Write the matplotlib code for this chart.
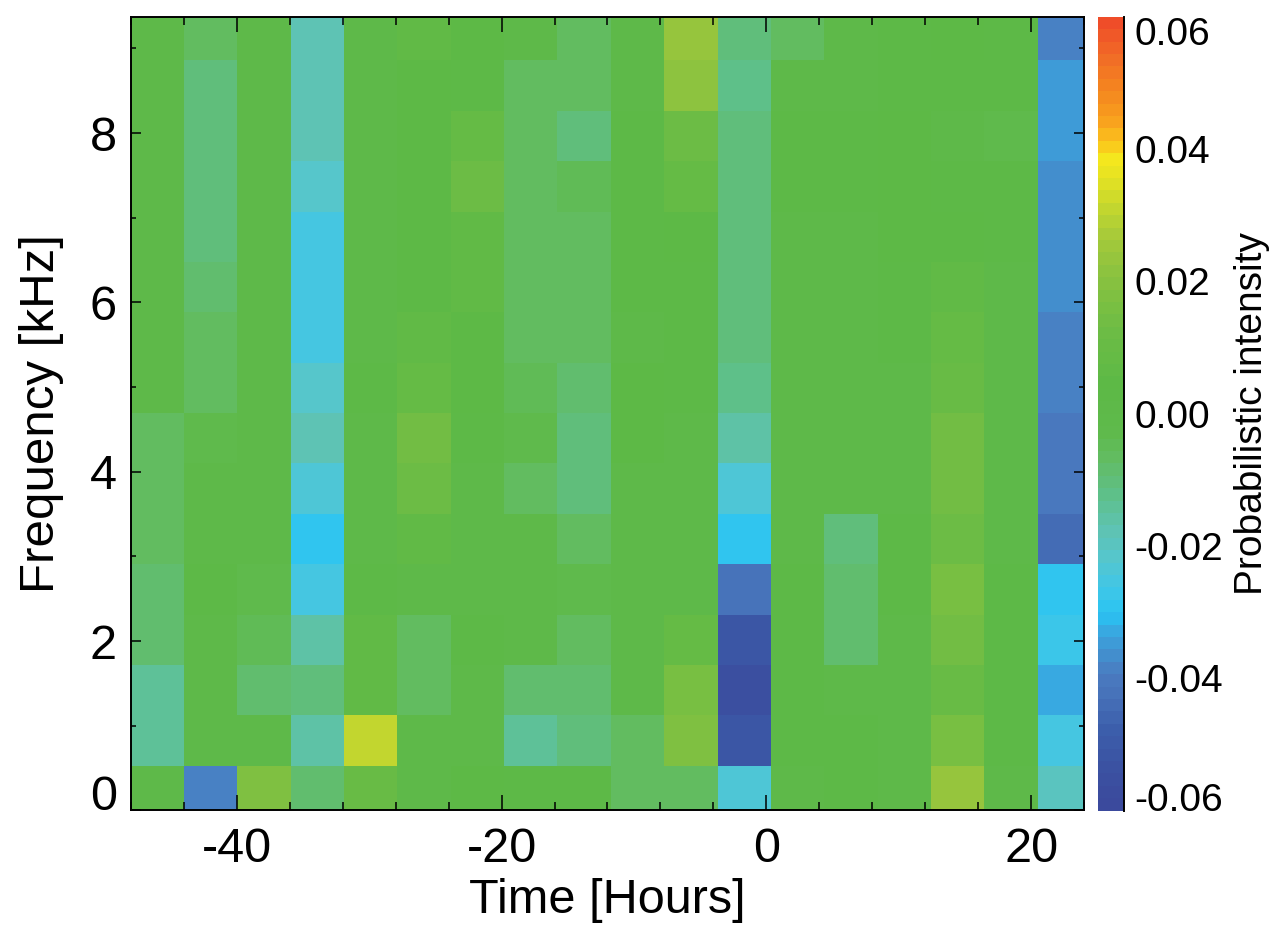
import numpy as np
import matplotlib
matplotlib.use("Agg")
import matplotlib.pyplot as plt
from matplotlib.colors import LinearSegmentedColormap, Normalize
from matplotlib.ticker import MultipleLocator, FixedLocator, FixedFormatter

plt.rcParams['font.family'] = ['Liberation Sans', 'DejaVu Sans']
plt.rcParams['axes.unicode_minus'] = False

# ---- data ----
time_bin_start = -48.02     # hours
time_bin_width = 4.03       # hours
freq_bin_start = -0.067     # kHz
freq_bin_width = 0.595      # kHz

# intensity per time bin (columns), values from lowest to highest frequency bin
col_m48 = [0.001, -0.015, -0.015, -0.009, -0.009, -0.006, -0.006, -0.006, 0.001, 0.001, 0.001, 0.001, 0.001, 0.001, 0.001, 0.001]
col_m44 = [-0.038, 0.001, 0.001, 0.001, 0.002, 0.001, 0.001, -0.003, -0.007, -0.006, -0.008, -0.010, -0.010, -0.011, -0.011, -0.006]
col_m40 = [0.017, 0.001, -0.008, -0.005, -0.002, 0.0, 0.0, 0.0, 0.0, 0.0, 0.0, 0.0, 0.0, 0.0, 0.0, 0.0]
col_m36 = [-0.009, -0.016, -0.010, -0.016, -0.025, -0.030, -0.024, -0.018, -0.022, -0.026, -0.026, -0.025, -0.022, -0.018, -0.017, -0.017]
col_m32 = [0.010, 0.031, 0.006, 0.006, 0.002, 0.0, 0.0, 0.0, 0.002, 0.0, 0.0, 0.0, 0.0, 0.0, 0.0, 0.0]
col_m28 = [0.001, 0.0, -0.006, -0.006, 0.001, 0.006, 0.013, 0.014, 0.008, 0.006, 0.005, 0.005, 0.004, 0.004, 0.005, 0.006]
col_m24 = [0.005, 0.0, 0.0, 0.002, 0.0, 0.0, 0.0, 0.002, 0.004, 0.005, 0.006, 0.007, 0.012, 0.008, 0.003, 0.005]
col_m20 = [0.002, -0.015, -0.008, 0.0, 0.0, 0.0, -0.006, -0.002, -0.004, -0.007, -0.007, -0.006, -0.006, -0.006, -0.006, 0.001]
col_m16 = [0.002, -0.010, -0.008, -0.006, -0.003, -0.006, -0.011, -0.010, -0.008, -0.006, -0.006, -0.006, -0.005, -0.011, -0.006, -0.006]
col_m12 = [-0.007, -0.007, 0.0, 0.0, 0.0, 0.0, 0.0, 0.004, 0.004, 0.001, 0.002, 0.002, 0.002, 0.002, 0.0, 0.0]
col_m08 = [-0.006, 0.018, 0.015, 0.008, 0.0, 0.0, 0.0, 0.0, 0.002, 0.002, 0.002, 0.004, 0.008, 0.012, 0.022, 0.024]
col_m04 = [-0.023, -0.052, -0.056, -0.052, -0.042, -0.030, -0.023, -0.016, -0.012, -0.010, -0.010, -0.011, -0.011, -0.010, -0.012, -0.011]
col_p00 = [0.001, 0.003, 0.002, 0.002, 0.002, 0.0, 0.0, 0.0, 0.0, 0.0, 0.0, 0.0, 0.002, 0.002, 0.001, -0.007]
col_p04 = [0.002, 0.002, 0.001, -0.008, -0.008, -0.010, 0.0, 0.0, 0.0, 0.0, 0.0, 0.0, 0.002, 0.003, 0.0, 0.0]
col_p08 = [0.001, 0.001, 0.0, 0.0, 0.002, 0.002, 0.001, 0.0, 0.001, 0.002, 0.002, 0.004, 0.004, 0.004, 0.003, 0.003]
col_p12 = [0.023, 0.016, 0.011, 0.014, 0.016, 0.012, 0.014, 0.014, 0.010, 0.008, 0.006, 0.004, 0.002, 0.001, 0.003, 0.004]
col_p16 = [0.0, 0.003, 0.003, 0.003, 0.002, 0.0, 0.0, 0.0, 0.001, 0.001, 0.0, 0.002, 0.002, -0.003, 0.002, 0.002]
col_p20 = [-0.019, -0.025, -0.033, -0.027, -0.030, -0.045, -0.041, -0.040, -0.039, -0.038, -0.037, -0.036, -0.036, -0.034, -0.034, -0.039]

columns = [col_m48, col_m44, col_m40, col_m36, col_m32, col_m28, col_m24, col_m20, col_m16,
           col_m12, col_m08, col_m04, col_p00, col_p04, col_p08, col_p12, col_p16, col_p20]

x_ticks = [-40, -20, 0, 20]
y_ticks = [0, 2, 4, 6, 8]
cbar_ticks = [-0.06, -0.04, -0.02, 0.00, 0.02, 0.04, 0.06]
cbar_ticklabels = ['-0.06', '-0.04', '-0.02', '0.00', '0.02', '0.04', '0.06']

# colormap anchors (value, colour)
cmap_anchors = [
    (-0.060, '#3b4a9d'), (-0.0558, '#3b4fa0'), (-0.0483, '#3c5fab'), (-0.0437, '#4670b8'),
    (-0.0398, '#4a7cc0'), (-0.0368, '#4290cf'), (-0.0337, '#3aa5df'), (-0.0307, '#29c4f3'),
    (-0.0267, '#40c6e6'), (-0.022, '#56c6cc'), (-0.018, '#5ec3b3'), (-0.013, '#5ec08e'),
    (-0.007, '#62bc62'), (-0.003, '#5fba4c'), (0.0046, '#5db946'), (0.012, '#6bbc45'),
    (0.017, '#7bbf42'), (0.022, '#8dc33f'), (0.0272, '#a6ca3a'), (0.032, '#c6d82d'),
    (0.0364, '#e6e322'), (0.039, '#f4e81e'), (0.0415, '#fbc51c'), (0.045, '#f9a11e'),
    (0.050, '#f4841f'), (0.055, '#f16a27'), (0.060, '#ef4d29'),
]

# ---- figure ----
W, H = 1284, 938
fig = plt.figure(figsize=(W / 100, H / 100), dpi=100)

def px_axes(l, t, r, b):
    return [l / W, (H - b) / H, (r - l) / W, (b - t) / H]

ax = fig.add_axes(px_axes(130.7, 16.7, 1084.3, 810.4))
cax = fig.add_axes(px_axes(1098.3, 16.7, 1124.3, 810.7))

vmin, vmax = -0.06, 0.06
pos = [(v - vmin) / (vmax - vmin) for v, _ in cmap_anchors]
cols = [c for _, c in cmap_anchors]
cmap = LinearSegmentedColormap.from_list('prob', list(zip(pos, cols)), N=64)
norm = Normalize(vmin=vmin, vmax=vmax)

Z = np.array(columns).T
n_f, n_t = Z.shape
t_edges = time_bin_start + time_bin_width * np.arange(n_t + 1)
f_edges = freq_bin_start + freq_bin_width * np.arange(n_f + 1)

mesh = ax.pcolormesh(t_edges, f_edges, Z, cmap=cmap, norm=norm, shading='flat',
                     edgecolors='face', linewidth=0)
ax.set_xlim(-48, 24)
ax.set_ylim(0, 9.375)

ax.xaxis.set_major_locator(FixedLocator(x_ticks))
ax.xaxis.set_minor_locator(MultipleLocator(4))
ax.yaxis.set_major_locator(FixedLocator(y_ticks))
ax.yaxis.set_minor_locator(MultipleLocator(1))

for sp in ax.spines.values():
    sp.set_linewidth(1.4)
    sp.set_zorder(5)

ax.tick_params(axis='both', which='both', direction='in', top=True, right=True,
               width=1.1, labelsize=35, colors='black')
ax.tick_params(axis='x', which='major', length=10.8, pad=12)
ax.tick_params(axis='x', which='minor', length=5.5)
ax.tick_params(axis='y', which='major', length=7.2, pad=10)
ax.tick_params(axis='y', which='minor', length=3.6)

ax.set_xlabel('Time [Hours]', fontsize=35)
ax.set_ylabel('Frequency [kHz]', fontsize=35.5)
ax.xaxis.set_label_coords(0.5, -0.085)
ax.yaxis.set_label_coords(-0.07, 0.5)

# bottom y tick label sits on its baseline, as in the reference
ax.yaxis.get_major_ticks()[0].label1.set_va('baseline')

# colorbar
cb = fig.colorbar(mesh, cax=cax)
cb.outline.set_visible(False)
cax.plot([1, 1], [0, 1], transform=cax.transAxes, color='black', lw=1.4, clip_on=False)
cax.yaxis.set_major_locator(FixedLocator(cbar_ticks))
cax.yaxis.set_major_formatter(FixedFormatter(cbar_ticklabels))
cax.yaxis.set_minor_locator(FixedLocator([]))
cax.tick_params(axis='y', which='both', length=0, pad=7, labelsize=28)
cb.set_label('Probabilistic intensity', fontsize=28)
cax.yaxis.set_label_coords(5.2, 0.5)
cticks = cax.yaxis.get_major_ticks()
cticks[0].label2.set_va('baseline')
cticks[-1].label2.set_va('top')

fig.savefig('out.png', dpi=100)
